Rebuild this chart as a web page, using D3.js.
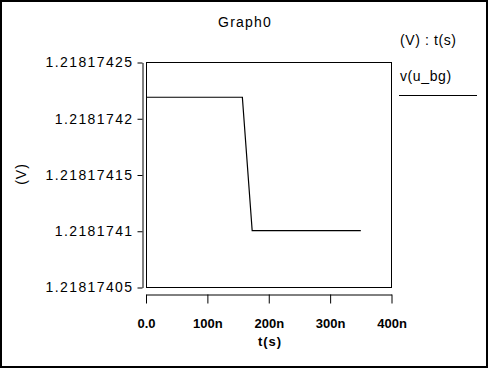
<!DOCTYPE html>
<html>
<head>
<meta charset="utf-8">
<script src="https://cdn.jsdelivr.net/npm/d3@7"></script>
<style>
  html, body { margin: 0; padding: 0; background: #fff; }
  svg { display: block; }
  text { font-family: "Liberation Sans", Arial, sans-serif; fill: #000; }
</style>
</head>
<body>
<svg id="chart" width="488" height="368"></svg>
<script>
// Data (time in ns, voltage in V)
const timeNs   = [0, 157, 173, 350];
const voltage  = [1.2181742191, 1.2181742191, 1.2181741005, 1.2181741005];
const xTicks   = [0, 100, 200, 300, 400];
const xLabels  = ["0.0", "100n", "200n", "300n", "400n"];
const yTicks   = [1.21817405, 1.2181741, 1.21817415, 1.2181742, 1.21817425];
const yLabels  = ["1.21817405", "1.2181741", "1.21817415", "1.2181742", "1.21817425"];

const svg = d3.select("#chart");

// outer frame
svg.append("rect")
  .attr("x", 1).attr("y", 1).attr("width", 486).attr("height", 366)
  .attr("fill", "none").attr("stroke", "#000").attr("stroke-width", 2);

const x = d3.scaleLinear().domain([0, 400]).range([146, 391.5]);
const y = d3.scaleLinear().domain([1.21817405, 1.21817425]).range([287.5, 62.5]);

// plot box
svg.append("rect")
  .attr("x", 146.5).attr("y", 62.5)
  .attr("width", 245).attr("height", 225)
  .attr("fill", "none").attr("stroke", "#000");

// y axis (offset left of box)
const yAxis = svg.append("g")
  .attr("transform", "translate(142.5,0)")
  .call(d3.axisLeft(y).tickValues(yTicks).tickSize(5).tickSizeOuter(0)
    .tickPadding(4).tickFormat((d, i) => yLabels[i]));
yAxis.selectAll("path, line").attr("stroke", "#000");
yAxis.selectAll("text")
  .attr("font-size", 14).attr("letter-spacing", "1.4px")
  .attr("font-family", "Liberation Sans, Arial, sans-serif").attr("fill", "#000");

// x axis (offset below box)
const xAxis = svg.append("g")
  .attr("transform", "translate(0,294.5)")
  .call(d3.axisBottom(x).tickValues(xTicks).tickSize(9).tickSizeOuter(0)
    .tickFormat((d, i) => xLabels[i]));
xAxis.selectAll("path, line").attr("stroke", "#000");
xAxis.selectAll("text")
  .attr("y", 33).attr("dy", null)
  .attr("font-size", 13).attr("font-weight", "bold").attr("letter-spacing", "0px")
  .attr("font-family", "Liberation Sans, Arial, sans-serif").attr("fill", "#000");

// trace
const line = d3.line()
  .x((d, i) => x(timeNs[i]))
  .y(d => y(d));
svg.append("path")
  .datum(voltage)
  .attr("fill", "none").attr("stroke", "#000").attr("stroke-width", 1.2)
  .attr("d", line);

// title
svg.append("text")
  .attr("x", 245).attr("y", 27)
  .attr("text-anchor", "middle").attr("font-size", 14).attr("letter-spacing", "1.2px")
  .text("Graph0");

// axis titles
svg.append("text")
  .attr("x", 270).attr("y", 346)
  .attr("text-anchor", "middle").attr("font-size", 13).attr("font-weight", "bold")
  .attr("letter-spacing", "1px")
  .text("t(s)");

svg.append("text")
  .attr("transform", "translate(26,174) rotate(-90)")
  .attr("text-anchor", "middle").attr("font-size", 14).attr("letter-spacing", "1px")
  .text("(V)");

// legend
svg.append("text")
  .attr("x", 400).attr("y", 45)
  .attr("font-size", 14).attr("letter-spacing", "0.6px")
  .text("(V) : t(s)");
svg.append("text")
  .attr("x", 400).attr("y", 81)
  .attr("font-size", 14).attr("letter-spacing", "0.6px")
  .text("v(u_bg)");
svg.append("line")
  .attr("x1", 399).attr("x2", 477).attr("y1", 95.5).attr("y2", 95.5)
  .attr("stroke", "#000");
</script>
</body>
</html>
